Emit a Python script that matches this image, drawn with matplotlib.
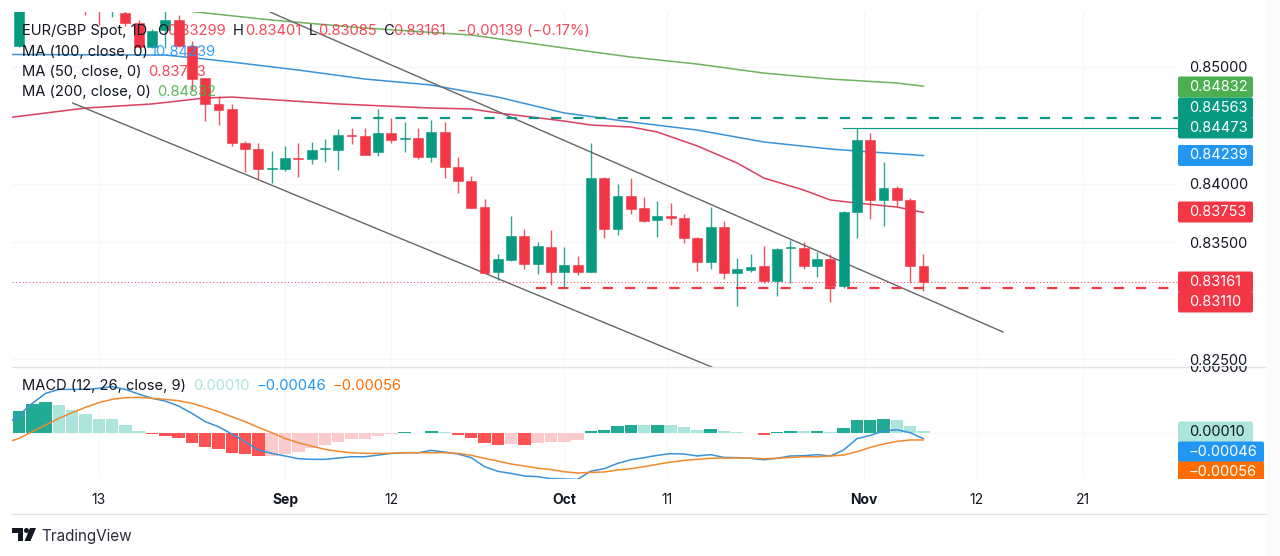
# EUR/GBP daily chart, TradingView look
import numpy as np
import matplotlib
matplotlib.use('Agg')
import matplotlib.pyplot as plt
from matplotlib.patches import FancyBboxPatch, Rectangle, Circle, Polygon
from matplotlib.lines import Line2D
from matplotlib.transforms import IdentityTransform, Bbox

plt.rcParams['font.family'] = ['Inter', 'DejaVu Sans']

W, H = 1280, 556

#=============== data, prices in 1e-5 ===============
o = [85175, 85900, 85950, 85980, 85900, 85850, 85800, 85700, 85457, 85372, 85167, 85312, 85397, 85175, 84902, 84680, 84637,
     84346, 84295, 84124, 84124, 84218, 84210, 84295, 84286, 84415, 84406, 84269, 84432, 84380, 84389, 84227, 84440, 84141,
     84021, 83799, 83244, 83346, 83551, 83312, 83457, 83244, 83304, 83244, 84047, 83611, 83893, 83791, 83688, 83720, 83705,
     83534, 83329, 83628, 83235, 83261, 83295, 83167, 83449, 83449, 83295, 83355, 83124, 83756, 84372, 83859, 83962, 83859, 83299]
h = [86000, 86100, 86100, 86100, 86050, 85980, 85950, 85800, 85600, 85400, 85320, 85500, 85440, 85218, 84902, 84748, 84680,
     84363, 84346, 84278, 84321, 84346, 84355, 84380, 84466, 84474, 84474, 84637, 84560, 84526, 84474, 84543, 84526, 84227,
     84064, 83868, 83397, 83722, 83611, 83500, 83603, 83457, 83380, 84346, 84056, 83996, 84047, 83885, 83850, 83833, 83739,
     83543, 83799, 83680, 83363, 83397, 83466, 83449, 83517, 83500, 83415, 83397, 83765, 84474, 84432, 84184, 83979, 83876, 83401]
l = [85170, 85650, 85700, 85700, 85600, 85440, 85355, 85423, 85346, 85158, 85158, 85158, 85167, 84799, 84534, 84500, 84321,
     84098, 84039, 84004, 84107, 84056, 84167, 84184, 84115, 84338, 84240, 84235, 84346, 84269, 84210, 84184, 84047, 83919,
     83791, 83235, 83175, 83338, 83269, 83227, 83133, 83115, 83218, 83244, 83534, 83560, 83739, 83671, 83543, 83645, 83492,
     83252, 83269, 83184, 82953, 83244, 83150, 83039, 83150, 83269, 83201, 82987, 83107, 83534, 83697, 83637, 83799, 83150, 83085]
c = [85700, 85800, 85850, 85800, 85750, 85700, 85600, 85720, 85372, 85167, 85303, 85397, 85175, 84893, 84680, 84628, 84346,
     84295, 84124, 84130, 84218, 84212, 84286, 84303, 84415, 84408, 84244, 84432, 84372, 84388, 84227, 84440, 84141, 84021,
     83791, 83235, 83355, 83551, 83312, 83466, 83244, 83304, 83244, 84047, 83611, 83893, 83782, 83680, 83722, 83708, 83534,
     83329, 83628, 83235, 83269, 83287, 83167, 83440, 83455, 83295, 83355, 83124, 83756, 84372, 83859, 83962, 83859, 83295, 83161]

ma200_i = [13, 19, 26, 34, 41, 46, 51, 56, 61, 66, 68]
ma200 = [85470, 85397, 85329, 85269, 85158, 85081, 85021, 84944, 84893, 84859, 84832]
ma100_i = [-1, 11, 14, 16, 21, 26, 31, 36, 41, 46, 51, 56, 61, 63, 68]
ma100 = [85103, 85098, 85064, 85038, 84970, 84893, 84842, 84739, 84603, 84526, 84457, 84355, 84295, 84278, 84239]
ma50_i = [-1, 5, 10, 14, 16, 24, 31, 34, 36, 41, 43, 46, 48, 51, 54, 56, 59, 61, 63, 66, 68]
ma50 = [84560, 84645, 84680, 84731, 84739, 84680, 84645, 84637, 84603, 84534, 84500, 84483, 84440, 84321, 84175, 84047,
        83944, 83859, 83833, 83799, 83753]

# channel lines (candle index, price)
upper_i, upper_p = [18.87, 73.98], [85466, 82731]
lower_i, lower_p = [4.03, 52.1], [84688, 82431]

level_top = 84563
level_res = 84473
level_sup = 83110
last_close = 83161

# MACD, 1e-5
hist = [167, 220, 238, 213, 174, 146, 105, 103, 59, 15, -8, -23, -44, -79, -108, -128, -154, -167, -179, -179, -164, -146,
        -115, -97, -69, -49, -49, -28, -13, 6, -6, 10, 3, -18, -38, -79, -97, -90, -93, -77, -74, -69, -59, 13, 23, 51, 59,
        59, 62, 62, 44, 21, 26, 10, 3, -5, -18, 4, 15, 10, 15, 3, 36, 97, 98, 103, 95, 49, 10]
macd = [59, 136, 226, 302, 333, 333, 333, 341, 354, 333, 297, 264, 243, 205, 149, 85, 46, -10, -69, -133, -159, -179, -200,
        -205, -205, -195, -185, -185, -172, -159, -154, -154, -136, -149, -164, -192, -261, -297, -313, -333, -338, -354,
        -356, -359, -295, -277, -236, -208, -192, -174, -161, -164, -179, -169, -190, -192, -197, -208, -197, -179, -177,
        -169, -179, -133, -46, -21, 13, 23, 0, -46]
signal = [-77, -44, 8, 59, 110, 154, 195, 231, 256, 269, 272, 264, 256, 246, 226, 195, 161, 123, 85, 41, 0, -44, -77, -103,
          -128, -144, -154, -159, -159, -159, -154, -154, -154, -154, -159, -174, -197, -218, -241, -256, -272, -284, -300,
          -310, -305, -302, -287, -277, -261, -243, -226, -213, -205, -197, -195, -195, -195, -200, -197, -190, -185, -185,
          -179, -172, -146, -113, -87, -67, -56, -56]

price_ticks = [0.85, 0.84, 0.835, 0.825]
date_pos = [6, 20, 28, 41, 48.7, 63.5, 72, 80]
date_labels = ['13', 'Sep', '12', 'Oct', '11', 'Nov', '12', '21']
date_bold = ['Sep', 'Oct', 'Nov']

tag_text = ['0.84832', '0.84563', '0.84473', '0.84239', '0.83753', '0.83161', '0.83110']
tag_color = ['#4CAF50', '#089981', '#089981', '#2196F3', '#F23645', '#F23645', '#F23645']
tag_y = [87, 108, 128, 155.5, 212, 282, 302]

#=============== colours ===============
UP = '#089981'
DOWN = '#F23645'
BLACK = '#131722'
GRID = '#F6F7F8'
SEP = '#E0E3EB'


def axpx(left, top, right, bottom):
    return [left / W, 1 - bottom / H, (right - left) / W, (bottom - top) / H]


def P(x):
    return np.array(x) / 1e5


fig = plt.figure(figsize=(W / 100, H / 100), dpi=100)
ax = fig.add_axes(axpx(12, 12, 1178, 367))
ax2 = fig.add_axes(axpx(12, 367, 1178, 479))
xlim = (-0.526, 87.14)

#=============== price pane ===============
ax.set_xlim(xlim)
ax.set_ylim(0.824317, 0.85466)
ax.grid(True, color=GRID, lw=1)
ax.set_axisbelow(True)
ax.set_xticks(date_pos)
ax.set_yticks(price_ticks)
ax.set_yticklabels(['%.5f' % t for t in price_ticks], color=BLACK, fontsize=10.5)
ax.yaxis.tick_right()
ax.tick_params(axis='y', length=0, pad=8)
ax.tick_params(axis='x', length=0, labelbottom=False)
for s in ax.spines.values():
    s.set_visible(False)

ax.plot(ma200_i, P(ma200), color='#6FB15F', lw=1.1, zorder=2)
ax.plot(ma100_i, P(ma100), color='#3A92D8', lw=1.1, zorder=2)
ax.plot(ma50_i, P(ma50), color='#DD3F5E', lw=1.1, zorder=2)
ax.plot(upper_i, P(upper_p), color='#666666', lw=1, zorder=2)
ax.plot(lower_i, P(lower_p), color='#666666', lw=1, zorder=2)

for i in range(len(o)):
    col = UP if c[i] >= o[i] else DOWN
    ax.plot([i, i], P([l[i], h[i]]), color=col, lw=1, alpha=0.85, zorder=3, solid_capstyle='butt')
    low = min(o[i], c[i]) / 1e5
    body = max(abs(c[i] - o[i]) / 1e5, 0.00001)
    ax.add_patch(Rectangle((i - 0.37, low), 0.74, body, fc=col, ec=col, lw=0.4, zorder=4))

ax.plot([24.96, xlim[1]], P([level_top, level_top]), color=UP, lw=1.6, dashes=(4.6, 5.4), zorder=3)
ax.plot([38.9, xlim[1]], P([level_sup, level_sup]), color=DOWN, lw=1.6, dashes=(4.6, 5.4), zorder=3)
ax.plot([61.95, xlim[1]], P([level_res, level_res]), color=UP, lw=0.8, zorder=3)
ax.plot(xlim, P([last_close, last_close]), color=DOWN, lw=0.7, dashes=(1, 2.5), zorder=3)

#=============== MACD pane ===============
ax2.set_xlim(xlim)
ax2.set_ylim(-0.00356, 0.00505)
ax2.grid(True, color=GRID, lw=1)
ax2.set_axisbelow(True)
ax2.set_xticks(date_pos)
ax2.set_xticklabels(date_labels, color=BLACK, fontsize=10)
for t, s in zip(ax2.get_xticklabels(), date_labels):
    if s in date_bold:
        t.set_fontweight('bold')
ax2.tick_params(axis='x', length=0, pad=10)
ax2.set_yticks([0])
ax2.set_yticklabels([])
ax2.tick_params(axis='y', length=0)
for s in ax2.spines.values():
    s.set_visible(False)

bar_cols = []
for i, v in enumerate(hist):
    prev = hist[i - 1] if i > 0 else v - 1
    if v >= 0:
        bar_cols.append('#22AB94' if v > prev else '#ACE5DC')
    else:
        bar_cols.append('#FF5252' if v < prev else '#FCCBCD')
ax2.bar(range(len(hist)), P(hist), width=0.94, color=bar_cols, lw=0, zorder=2)
line_x = np.arange(-1, len(macd) - 1)
ax2.plot(line_x, P(macd), color='#3A92D8', lw=1.1, zorder=3)
ax2.plot(line_x, P(signal), color='#F08A2C', lw=1.1, zorder=3)


#=============== overlay helpers, pixel coords from top left ===============
def txt(x, y, s, color=BLACK, size=10.6, ha='left', weight='normal', alpha=1.0):
    return fig.text(x / W, 1 - y / H, s, color=color, fontsize=size, ha=ha, va='center',
                    fontweight=weight, alpha=alpha, zorder=12)


def tag(y, s, fc, tc='#FFFFFF', right=1253, h_=21):
    box = FancyBboxPatch((1180, H - y - h_ / 2 + 2), right - 1182, h_ - 4, boxstyle='round,pad=2,rounding_size=2',
                         fc=fc, ec='none', transform=IdentityTransform(), zorder=10)
    fig.add_artist(box)
    txt(1189, y, s, color=tc, size=10.5)


for y, s, col in zip(tag_y, tag_text, tag_color):
    tag(y, s, col)
tag(432, '0.00010', '#ACE5DC', tc=BLACK)
tag(452, '\u22120.00046', '#2196F3', right=1264)
tag(472, '\u22120.00056', '#FF6D00', right=1264)
fig.add_artist(Rectangle((1178, 0), 90, H - 479, fc='#FFFFFF', ec='none', transform=IdentityTransform(), zorder=11))

# 0.00500 label only shows below the pane line
t5 = txt(1189, 368, '0.00500', size=10.5)
t5.set_clip_box(Bbox([[1178, H - 400], [1267, H - 366]]))
t5.set_clip_on(True)

# legend rows
txt(22, 31, 'EUR/GBP Spot, 1D')
txt(157, 31, 'O')
txt(167, 31, '0.83299', DOWN, alpha=0.9)
txt(233, 31, 'H')
txt(245, 31, '0.83401', DOWN, alpha=0.9)
txt(309, 31, 'L')
txt(318, 31, '0.83085', DOWN, alpha=0.9)
txt(383, 31, 'C')
txt(393, 31, '0.83161', DOWN, alpha=0.9)
txt(457, 31, '\u22120.00139 (\u22120.17%)', DOWN, alpha=0.9)
txt(22, 52, 'MA (100, close, 0)')
txt(150, 52, '10.84239', '#2196F3', alpha=0.9)
txt(22, 72, 'MA (50, close, 0)')
txt(148, 72, '0.83753', DOWN, alpha=0.9)
txt(22, 92, 'MA (200, close, 0)')
txt(157, 92, '0.84832', '#4CAF50', alpha=0.9)
txt(22, 386, 'MACD (12, 26, close, 9)')
txt(193, 386, '0.00010', '#ACE5DC')
txt(257, 386, '\u22120.00046', '#2196F3')
txt(333, 386, '\u22120.00056', '#FF6D00')

# separators and right strip
fig.add_artist(Line2D([12, 1267], [H - 367, H - 367], color=SEP, lw=1, transform=IdentityTransform(), zorder=12))
fig.add_artist(Line2D([12, 1267], [H - 514, H - 514], color=SEP, lw=1, transform=IdentityTransform(), zorder=12))
fig.add_artist(Rectangle((1267, 0), 13, H, fc='#FBFBFC', ec='none', transform=IdentityTransform(), zorder=12))

# TradingView mark
LOGO = '#131722'
for pts in ([(12, 528), (23, 528), (23, 541), (18, 541), (18, 533), (12, 533)],
            [(30, 528), (36, 528), (30.5, 541), (24.5, 541)]):
    fig.add_artist(Polygon([(x, H - y) for x, y in pts], fc=LOGO, ec='none', transform=IdentityTransform(), zorder=13))
fig.add_artist(Circle((26.5, H - 530.5), 2.5, fc=LOGO, ec='none', transform=IdentityTransform(), zorder=13))
txt(41, 536, 'TradingView', color='#2A2E39', size=11)

fig.savefig('out.png', dpi=100)
